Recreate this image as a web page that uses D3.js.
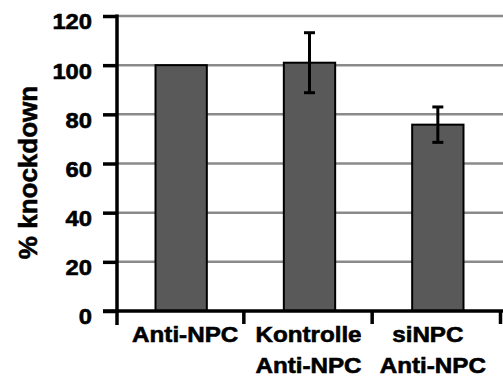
<!DOCTYPE html>
<html>
<head>
<meta charset="utf-8">
<script src="https://cdn.jsdelivr.net/npm/d3@7"></script>
<style>
  html, body { margin: 0; padding: 0; background: #fff; }
  svg { display: block; }
  text { font-family: "Liberation Sans", Arial, sans-serif; font-weight: bold; fill: #000; }
</style>
</head>
<body>
<svg id="chart" width="503" height="378"></svg>
<script>
// Knockdown per condition, mean with error
const categories = [["Anti-NPC"], ["Kontrolle", "Anti-NPC"], ["siNPC", "Anti-NPC"]];
const values = [100, 101, 75.8];
const errors = [0, 12.2, 7.2];
const yTicks = [0, 20, 40, 60, 80, 100, 120];
const yLabel = "% knockdown";

const W = 503, H = 378;
const m = { left: 117, top: 16, right: 1, bottom: 67 };
const svg = d3.select("#chart");

const x = d3.scaleBand()
  .domain(d3.range(categories.length))
  .range([m.left, W - m.right])
  .paddingInner(0.6)
  .paddingOuter(0.3);

const y = d3.scaleLinear()
  .domain([0, 120])
  .range([H - m.bottom, m.top]);

// horizontal gridlines
svg.append("g")
  .selectAll("line")
  .data(yTicks.filter(d => d > 0))
  .join("line")
  .attr("x1", m.left).attr("x2", W)
  .attr("y1", d => y(d)).attr("y2", d => y(d))
  .attr("stroke", "#8a8a8a")
  .attr("stroke-width", 2.5);

// bars
svg.append("g")
  .selectAll("rect")
  .data(values)
  .join("rect")
  .attr("x", (d, i) => x(i))
  .attr("width", x.bandwidth())
  .attr("y", d => y(d))
  .attr("height", d => y(0) - y(d))
  .attr("fill", "#595959")
  .attr("stroke", "#000")
  .attr("stroke-width", 2);

// error bars
const eb = svg.append("g").attr("stroke", "#000").attr("stroke-width", 3);
values.forEach((v, i) => {
  const cx = x(i) + x.bandwidth() / 2;
  const e = errors[i];
  if (e <= 0) return;
  eb.append("line").attr("x1", cx).attr("x2", cx).attr("y1", y(v + e)).attr("y2", y(v - e));
  eb.append("line").attr("x1", cx - 5.5).attr("x2", cx + 5.5).attr("y1", y(v + e)).attr("y2", y(v + e));
  eb.append("line").attr("x1", cx - 5.5).attr("x2", cx + 5.5).attr("y1", y(v - e)).attr("y2", y(v - e));
});

// y axis
const yAxis = svg.append("g")
  .attr("transform", `translate(${m.left},0)`)
  .call(d3.axisLeft(y).tickValues(yTicks).tickSize(14).tickPadding(11));
yAxis.select(".domain").remove();
yAxis.selectAll(".tick line").attr("stroke", "#000").attr("stroke-width", 3.5);
yAxis.selectAll(".tick text")
  .attr("font-size", 22)
  .attr("font-family", "Liberation Sans, Arial, sans-serif")
  .attr("font-weight", "bold")
  .attr("stroke", "#000")
  .attr("stroke-width", 0.6)
  .attr("transform", "scale(1.08,1)")
  .attr("x", -25 / 1.08)
  .attr("y", 5)
  .attr("dy", "0.36em");

// vertical axis line, extending below zero like a category tick
svg.append("line")
  .attr("x1", m.left).attr("x2", m.left)
  .attr("y1", y(120) - 1.5).attr("y2", y(0) + 14)
  .attr("stroke", "#000").attr("stroke-width", 3.5);

// x axis line
svg.append("line")
  .attr("x1", m.left - 14).attr("x2", W)
  .attr("y1", y(0)).attr("y2", y(0))
  .attr("stroke", "#000").attr("stroke-width", 3.5);

// category boundary ticks
const step = x.step();
svg.append("g")
  .selectAll("line")
  .data(d3.range(1, categories.length + 1))
  .join("line")
  .attr("x1", i => m.left + i * step - 1.5)
  .attr("x2", i => m.left + i * step - 1.5)
  .attr("y1", y(0)).attr("y2", y(0) + 13)
  .attr("stroke", "#000").attr("stroke-width", 3.5);

// category labels
const labelShift = [4, -1, -5];
const lineShift = [[0], [0, 0], [-5, 0]];
const lab = svg.append("g");
categories.forEach((lines, i) => {
  const cx = x(i) + x.bandwidth() / 2 + labelShift[i];
  lines.forEach((t, j) => {
    const tx = cx + lineShift[i][j];
    lab.append("text")
      .attr("transform", `translate(${tx},${342 + j * 31}) scale(1.1,1)`)
      .attr("text-anchor", "middle")
      .attr("font-size", 22)
      .attr("stroke", "#000")
      .attr("stroke-width", 0.6)
      .text(t);
  });
});

// y axis title
svg.append("text")
  .attr("transform", `translate(37,${(y(0) + y(120)) / 2 + 9}) rotate(-90)`)
  .attr("text-anchor", "middle")
  .attr("font-size", 26)
  .attr("font-weight", "normal")
  .attr("stroke", "#000")
  .attr("stroke-width", 0.6)
  .text(yLabel);
</script>
</body>
</html>
